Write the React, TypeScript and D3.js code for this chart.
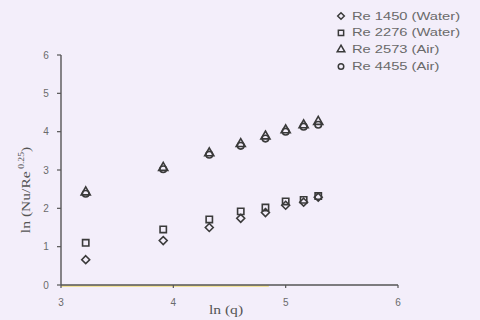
import React from "react";
import * as d3 from "d3";

const lnQ = [3.22, 3.91, 4.32, 4.6, 4.82, 5.0, 5.16, 5.29];
const re1450 = [0.66, 1.16, 1.5, 1.74, 1.89, 2.08, 2.16, 2.29];
const re2276 = [1.1, 1.45, 1.71, 1.92, 2.02, 2.18, 2.22, 2.32];
const re2573 = [2.42, 3.06, 3.44, 3.68, 3.88, 4.04, 4.17, 4.26];
const re4455 = [2.38, 3.02, 3.4, 3.63, 3.82, 4.0, 4.13, 4.18];
const seriesNames = ["Re 1450 (Water)", "Re 2276 (Water)", "Re 2573 (Air)", "Re 4455 (Air)"];
const xTicks = [3, 4, 5, 6];
const yTicks = [0, 1, 2, 3, 4, 5, 6];

const symbols = [d3.symbolDiamond2, d3.symbolSquare, d3.symbolTriangle, d3.symbolCircle];
const sizes = [40, 40, 36, 34];

const App = () => {
  const width = 480;
  const height = 320;
  const x = d3.scaleLinear().domain([3, 6]).range([61, 398]);
  const y = d3.scaleLinear().domain([0, 6]).range([285, 55]);
  const all = [re1450, re2276, re2573, re4455];
  const ink = "#3a3a3a";
  const tickColor = "#6a6a6a";
  const sans = "Liberation Sans, Arial, sans-serif";
  const serif = "Liberation Serif, Times New Roman, serif";

  return (
    <svg
      width={width}
      height={height}
      style={{ position: "absolute", left: 0, top: 0, background: "#f3eefa" }}
    >
      {/* faint yellow scan artifact along the x axis */}
      <line x1={x(3)} x2={x(4.85)} y1={y(0) + 1} y2={y(0) + 1} stroke="#f2df7a" strokeWidth={1.5} />
      <line x1={x(3)} x2={x(6)} y1={y(0)} y2={y(0)} stroke="#555" strokeWidth={1.4} />
      <line x1={x(3)} x2={x(3)} y1={y(0)} y2={y(6)} stroke="#555" strokeWidth={1.4} />

      {yTicks.map((t) => (
        <g key={"y" + t}>
          <line x1={x(3) - 4} x2={x(3)} y1={y(t)} y2={y(t)} stroke="#555" strokeWidth={1.2} />
          <text x={x(3) - 15} y={y(t)} dy="0.35em" textAnchor="middle" fontFamily={sans} fontSize={10} fill={tickColor}>
            {t}
          </text>
        </g>
      ))}
      {xTicks.map((t) => (
        <g key={"x" + t}>
          <line x1={x(t)} x2={x(t)} y1={y(0)} y2={y(0) + 3} stroke="#555" strokeWidth={1.2} />
          <text x={x(t)} y={y(0) + 21} textAnchor="middle" fontFamily={sans} fontSize={10} fill={tickColor}>
            {t}
          </text>
        </g>
      ))}

      <text
        transform="translate(226,314) scale(1.2,1)"
        textAnchor="middle"
        fontFamily={serif}
        fontSize={13}
        fill="#555"
      >
        ln (q)
      </text>
      <text
        transform="translate(30,190) rotate(-90) scale(1.2,1)"
        textAnchor="middle"
        fontFamily={serif}
        fontSize={13}
        fill="#555"
      >
        ln (Nu/Re
        <tspan dy={-6} fontSize={8}>
          {" 0.25"}
        </tspan>
        <tspan dy={6}>)</tspan>
      </text>

      {all.map((vals, si) => (
        <g key={"s" + si}>
          {vals.map((v, i) => (
            <path
              key={i}
              transform={`translate(${x(lnQ[i])},${y(v)})`}
              d={d3.symbol().type(symbols[si]).size(sizes[si])() || ""}
              fill="none"
              stroke={ink}
              strokeWidth={1.6}
            />
          ))}
        </g>
      ))}

      {seriesNames.map((name, i) => (
        <g key={"l" + i} transform={`translate(0,${16 + i * 16.8})`}>
          <path
            transform="translate(341,0)"
            d={d3.symbol().type(symbols[i]).size(sizes[i] * 0.7)() || ""}
            fill="none"
            stroke={ink}
            strokeWidth={1.5}
          />
          <text
            transform="translate(352,0) scale(1.4,1)"
            dy="0.35em"
            fontFamily={sans}
            fontSize={10.5}
            fill="#6a6a6a"
          >
            {name}
          </text>
        </g>
      ))}
    </svg>
  );
};

export default App;
